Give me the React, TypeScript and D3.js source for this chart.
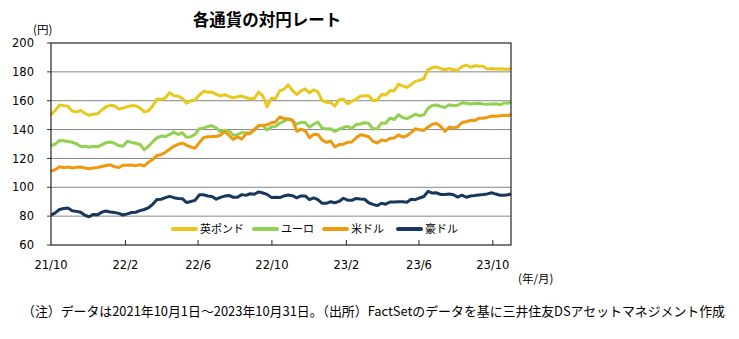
import React from "react";
import * as d3 from "d3";

const seriesNames = ["英ポンド", "ユーロ", "米ドル", "豪ドル"];
const seriesColors = ["#E8C81C", "#92D050", "#EE9A10", "#17375E"];

// weekly closes (Fri) from 2021-10-01, last point 2023-10-31
const gbp = [
  150.4, 153.2, 157.0, 156.6, 156.1, 152.9, 152.1, 153.3, 151.3, 149.9,
  150.6, 151.0, 153.6, 155.8, 156.8, 156.4, 154.3, 154.9, 155.9, 156.5,
  156.5, 155.0, 152.2, 153.0, 156.4, 161.2, 160.8, 162.0, 165.5, 163.5,
  163.3, 161.5, 158.3, 160.0, 160.5, 163.9, 166.5, 165.9, 166.0, 164.4,
  163.3, 164.2, 163.0, 162.0, 162.7, 163.3, 162.2, 161.3, 161.5, 166.0,
  163.4, 155.7, 161.5, 161.5, 167.0, 167.9, 171.0, 167.0, 164.3, 166.9,
  168.2, 165.5, 167.6, 166.0, 160.0, 158.8, 159.0, 156.2, 160.6, 161.0,
  158.0, 159.5, 161.0, 163.1, 163.4, 163.5, 160.0, 160.4, 164.3, 164.0,
  167.0, 166.8, 171.4, 170.3, 169.2, 171.3, 173.4, 174.1, 175.3, 181.6,
  183.0, 183.4, 182.1, 181.5, 182.3, 181.5, 181.2, 183.6, 184.7, 183.2,
  184.2, 184.0, 183.9, 181.9, 182.3, 182.0, 182.1, 182.0, 181.6, 183.0,
];
const eur = [
  129.0, 129.9, 132.5, 132.3, 131.7, 131.2, 130.2, 128.2, 128.4, 127.7,
  128.4, 128.0, 129.4, 130.9, 131.4, 130.5, 128.9, 128.5, 131.9, 131.1,
  130.5, 129.7, 125.9, 128.5, 131.6, 134.3, 135.5, 135.2, 136.6, 138.2,
  136.6, 137.8, 134.6, 135.1, 136.7, 140.6, 141.0, 142.1, 142.6, 141.2,
  138.4, 139.6, 139.1, 136.2, 136.5, 137.8, 137.8, 137.5, 139.5, 142.9,
  143.0, 139.7, 141.8, 142.3, 144.5, 145.8, 147.3, 146.0, 143.7, 145.0,
  144.9, 141.6, 143.8, 145.1, 141.0, 140.4, 140.6, 138.6, 140.3, 141.4,
  142.2, 140.7, 143.5, 143.9, 144.7, 144.3, 140.4, 140.7, 144.5, 144.3,
  148.0, 147.0, 150.2, 148.4, 147.6, 149.0, 150.6, 149.5, 150.2, 154.8,
  156.7, 157.1, 156.0, 155.3, 157.2, 156.6, 156.9, 158.6, 158.3, 157.7,
  158.0, 158.3, 157.7, 157.6, 157.8, 157.9, 157.3, 158.5, 158.2, 159.3,
];
const usd = [
  111.0, 112.2, 114.2, 113.5, 114.0, 113.4, 113.9, 114.0, 113.4, 112.8,
  113.4, 113.7, 114.4, 115.1, 115.6, 114.2, 113.7, 115.3, 115.2, 115.4,
  115.0, 115.6, 114.8, 117.3, 119.2, 122.0, 122.5, 124.3, 126.4, 128.4,
  129.8, 130.6, 129.2, 127.9, 127.1, 130.9, 134.4, 135.0, 135.2, 135.2,
  136.1, 138.6, 136.1, 133.2, 135.0, 133.4, 136.9, 137.6, 140.2, 142.6,
  142.9, 143.3, 144.7, 145.3, 148.7, 147.7, 147.4, 146.6, 138.8, 140.3,
  139.2, 134.3, 136.6, 136.6, 132.8, 131.1, 132.1, 127.9, 129.6, 129.9,
  131.2, 131.4, 134.2, 136.4, 135.9, 135.0, 131.8, 130.7, 132.8, 132.2,
  133.8, 134.1, 136.3, 134.8, 135.7, 137.9, 140.6, 139.9, 139.4, 141.8,
  143.7, 144.3, 142.1, 138.8, 141.8, 141.2, 141.8, 144.9, 145.4, 146.4,
  146.2, 147.8, 147.8, 148.4, 149.4, 149.3, 149.6, 149.9, 149.6, 150.8,
];
const aud = [
  80.7, 82.3, 84.6, 85.3, 85.7, 83.8, 83.3, 82.7, 80.6, 79.6,
  81.2, 81.0, 82.8, 83.6, 82.8, 82.5, 81.9, 80.8, 81.6, 82.5,
  82.7, 83.8, 84.6, 85.8, 88.2, 91.5, 91.7, 92.8, 93.7, 92.8,
  92.2, 92.1, 89.4, 90.1, 90.9, 94.8, 94.8, 94.0, 93.6, 91.8,
  93.0, 93.9, 94.3, 93.1, 93.1, 94.9, 94.4, 95.5, 95.2, 96.8,
  96.0, 95.1, 93.0, 93.1, 92.9, 94.0, 94.6, 94.2, 92.7, 94.0,
  94.0, 91.5, 92.6, 91.4, 88.9, 88.9, 90.0, 89.3, 90.2, 92.4,
  91.1, 91.0, 92.3, 91.9, 91.7, 89.3, 88.2, 87.3, 88.9, 88.3,
  89.8, 89.8, 90.0, 89.9, 89.6, 91.7, 91.4, 92.6, 93.6, 97.2,
  96.0, 96.2, 95.0, 95.0, 95.3, 94.8, 93.2, 94.5, 93.1, 94.0,
  94.3, 94.7, 95.0, 95.4, 96.2, 95.3, 94.5, 94.5, 94.8, 95.6,
];
const yTicks = [60, 80, 100, 120, 140, 160, 180, 200];
const xTickDates = [
  new Date(2021, 9, 1), new Date(2022, 1, 1), new Date(2022, 5, 1), new Date(2022, 9, 1),
  new Date(2023, 1, 1), new Date(2023, 5, 1), new Date(2023, 9, 1),
];
const startDate = new Date(2021, 9, 1);
const endDate = new Date(2023, 9, 31);

const title = "各通貨の対円レート";
const yUnit = "(円)";
const xUnit = "(年/月)";
const note = "（注）データは2021年10月1日～2023年10月31日。（出所）FactSetのデータを基に三井住友DSアセットマネジメント作成";

const dates = [
  ...d3.range(gbp.length - 1).map((i) => d3.timeDay.offset(startDate, 7 * i)),
  endDate,
];

export default function App() {
  const W = 739, H = 339;
  const x = d3.scaleTime().domain([startDate, endDate]).range([51, 511]);
  const y = d3.scaleLinear().domain([60, 200]).range([245, 43]);
  const series = [gbp, eur, usd, aud];
  const line = d3
    .line<number>()
    .x((_, i) => x(dates[i]))
    .y((d) => y(d))
    .curve(d3.curveLinear);
  const fmt = d3.timeFormat("%y/%-m");
  const jp = "'Noto Sans CJK JP', 'Noto Sans', sans-serif";
  const num = "'DejaVu Sans', Verdana, sans-serif";
  const legendX = [172, 253, 323, 397];

  return (
    <svg width={W} height={H} style={{ position: "absolute", left: 0, top: 0, background: "#fff" }}>
      <rect x={0} y={0} width={W} height={H} fill="#fff" />
      <text x={267} y={26} textAnchor="middle" fontFamily={jp} fontWeight="bold" fontSize={16.5} fill="#000">
        {title}
      </text>
      <text x={33} y={34} fontFamily={jp} fontSize={11.5} fill="#000">{yUnit}</text>

      {yTicks.map((t) => (
        <g key={t}>
          {t > 60 && t < 200 && (
            <line x1={51} x2={511} y1={y(t)} y2={y(t)} stroke="#878787" strokeWidth={1} />
          )}
          <line x1={47} x2={51} y1={y(t)} y2={y(t)} stroke="#333" strokeWidth={1} />
          <text x={34} y={y(t)} dy="0.36em" textAnchor="end" fontFamily={num} fontSize={11.5} fill="#000">
            {t}
          </text>
        </g>
      ))}

      {series.map((s, k) => (
        <path key={k} d={line(s) || ""} fill="none" stroke={seriesColors[k]} strokeWidth={3} strokeLinejoin="round" />
      ))}

      <rect x={51} y={43} width={460} height={202} fill="none" stroke="#262626" strokeWidth={1.2} />

      {xTickDates.map((d, i) => (
        <g key={i}>
          {i > 0 && <line x1={x(d)} x2={x(d)} y1={245} y2={240} stroke="#262626" strokeWidth={1} />}
          <text x={x(d)} y={265} dy="0.36em" textAnchor="middle" fontFamily={num} fontSize={11.5} fill="#000">
            {fmt(d)}
          </text>
        </g>
      ))}
      <text x={518} y={283} fontFamily={jp} fontSize={11.5} fill="#000">{xUnit}</text>

      {seriesNames.map((n, k) => (
        <g key={n}>
          <line x1={legendX[k] + 1} x2={legendX[k] + 24} y1={229} y2={229} stroke={seriesColors[k]} strokeWidth={4} strokeLinecap="round" />
          <text x={legendX[k] + 28} y={229} dy="0.36em" fontFamily={jp} fontSize={11} fill="#000">
            {n}
          </text>
        </g>
      ))}

      <text x={22} y={316} fontFamily={jp} fontSize={13} fill="#000" textLength={703} lengthAdjust="spacingAndGlyphs">
        {note}
      </text>
    </svg>
  );
}
